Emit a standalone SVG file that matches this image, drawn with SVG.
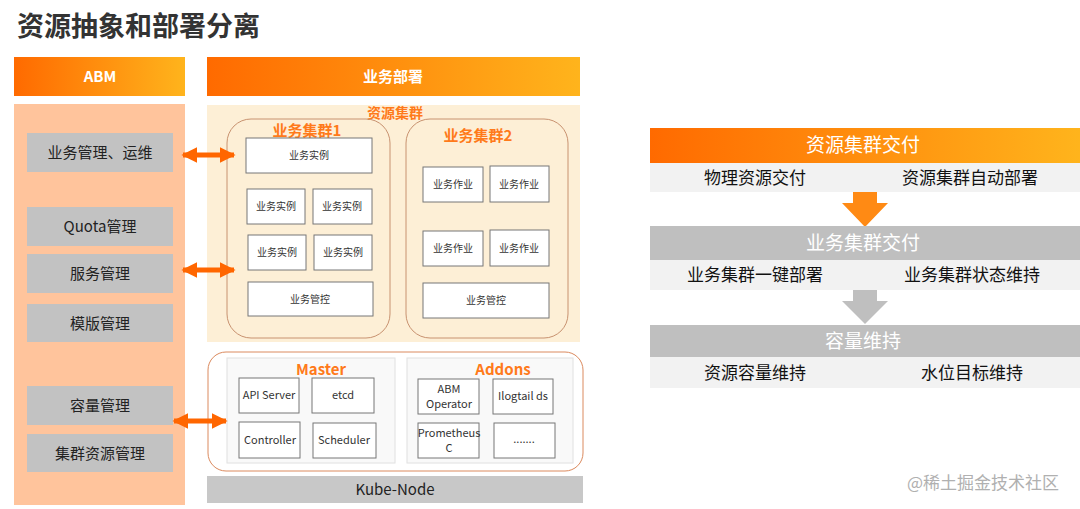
<svg xmlns="http://www.w3.org/2000/svg" width="1080" height="509" viewBox="0 0 1080 509">
<defs>
<linearGradient id="og" x1="0" y1="0" x2="1" y2="0">
<stop offset="0" stop-color="#FF6A00"/>
<stop offset="1" stop-color="#FFB41C"/>
</linearGradient>
<marker id="ah" viewBox="0 0 10 10" refX="9" refY="5" markerWidth="3.2" markerHeight="3.6" orient="auto-start-reverse" markerUnits="strokeWidth">
<path d="M0,0 L10,5 L0,10 Z" fill="#FF6600"/>
</marker>
</defs>
<style>
text{font-family:"Noto Sans CJK SC","Liberation Sans",sans-serif;}
.hdr{fill:#fff;font-size:15px;font-weight:bold;text-anchor:middle;}
.gray{fill:#C2C2C2;}
.ltxt{fill:#222;font-size:15px;text-anchor:middle;}
.ib{fill:#fff;stroke:#777;stroke-width:1;}
.it{fill:#333;font-size:10px;text-anchor:middle;}
.mt{fill:#333;font-size:11px;text-anchor:middle;}
.ol{fill:#FF7A1A;font-weight:bold;text-anchor:middle;}
.clu{fill:none;stroke:#C89270;stroke-width:1;}
.conn{stroke:#FF6600;stroke-width:5;fill:none;marker-start:url(#ah);marker-end:url(#ah);}
.rbar{fill:#F2F2F2;}
.rt{fill:#111;font-size:17px;text-anchor:middle;}
.rh{fill:#fff;font-size:19px;text-anchor:middle;}
</style>
<rect width="1080" height="509" fill="#fff"/>
<text x="17" y="36" font-size="27" font-weight="bold" fill="#333">资源抽象和部署分离</text>

<g id="abm-header"><rect x="14" y="57" width="171" height="39" fill="url(#og)"/><text class="hdr" x="100" y="82">ABM</text></g>
<g id="deploy-header"><rect x="207" y="57" width="373" height="39" fill="url(#og)"/><text class="hdr" x="393" y="82">业务部署</text></g>

<g id="abm-panel"><rect x="14" y="104" width="171" height="401" fill="#FFC49C"/></g>
<g id="n-ops"><rect class="gray" x="27" y="133" width="146" height="39"/><text class="ltxt" x="100" y="158">业务管理、运维</text></g>
<g id="n-quota"><rect class="gray" x="27" y="207" width="146" height="39"/><text class="ltxt" x="100" y="232">Quota管理</text></g>
<g id="n-svc"><rect class="gray" x="27" y="254" width="146" height="39"/><text class="ltxt" x="100" y="279">服务管理</text></g>
<g id="n-tpl"><rect class="gray" x="27" y="304" width="146" height="38"/><text class="ltxt" x="100" y="329">模版管理</text></g>
<g id="n-cap"><rect class="gray" x="27" y="386" width="146" height="39"/><text class="ltxt" x="100" y="411">容量管理</text></g>
<g id="n-clres"><rect class="gray" x="27" y="434" width="146" height="38"/><text class="ltxt" x="100" y="459">集群资源管理</text></g>

<g id="resource-cluster"><rect x="207" y="105" width="373" height="237" fill="#FDEFD6"/><text class="ol" x="395" y="118" font-size="14">资源集群</text></g>

<g id="biz-cluster-1">
<rect class="clu" x="227" y="119" width="163" height="219" rx="24"/>
<text class="ol" x="307" y="136" font-size="15">业务集群1</text>
<rect class="ib" x="246" y="138" width="126" height="35"/><text class="it" x="309" y="159">业务实例</text>
<rect class="ib" x="247" y="189" width="58" height="35"/><text class="it" x="276" y="210">业务实例</text>
<rect class="ib" x="313" y="189" width="59" height="35"/><text class="it" x="342" y="210">业务实例</text>
<rect class="ib" x="248" y="235" width="58" height="35"/><text class="it" x="277" y="256">业务实例</text>
<rect class="ib" x="314" y="235" width="58" height="35"/><text class="it" x="343" y="256">业务实例</text>
<rect class="ib" x="248" y="282" width="125" height="34"/><text class="it" x="310" y="303">业务管控</text>
</g>

<g id="biz-cluster-2">
<rect class="clu" x="406" y="119" width="162" height="219" rx="24"/>
<text class="ol" x="478" y="141" font-size="15">业务集群2</text>
<rect class="ib" x="423" y="167" width="60" height="35"/><text class="it" x="453" y="188">业务作业</text>
<rect class="ib" x="490" y="166" width="59" height="36"/><text class="it" x="519" y="188">业务作业</text>
<rect class="ib" x="423" y="231" width="60" height="35"/><text class="it" x="453" y="252">业务作业</text>
<rect class="ib" x="490" y="230" width="59" height="36"/><text class="it" x="519" y="252">业务作业</text>
<rect class="ib" x="423" y="283" width="126" height="35"/><text class="it" x="486" y="304">业务管控</text>
</g>

<g id="k8s">
<rect x="208" y="352" width="375" height="119" rx="18" fill="#fff" stroke="#DB8A5E" stroke-width="1"/>
</g>
<g id="master">
<rect x="227" y="358" width="168" height="105" fill="#F9F9F9" stroke="#E0E0E0"/>
<text class="ol" x="321" y="375" font-size="15">Master</text>
<rect class="ib" x="239" y="378" width="60" height="35"/><text class="mt" x="269" y="399">API Server</text>
<rect class="ib" x="312" y="378" width="62" height="35"/><text class="mt" x="343" y="399">etcd</text>
<rect class="ib" x="239" y="422" width="61" height="36"/><text class="mt" x="270" y="444">Controller</text>
<rect class="ib" x="313" y="423" width="63" height="35"/><text class="mt" x="344" y="444">Scheduler</text>
</g>
<g id="addons">
<rect x="407" y="358" width="166" height="105" fill="#F9F9F9" stroke="#E0E0E0"/>
<text class="ol" x="503" y="375" font-size="15">Addons</text>
<rect class="ib" x="418" y="379" width="61" height="35"/><text class="mt" x="449" y="393">ABM</text><text class="mt" x="449" y="408">Operator</text>
<rect class="ib" x="493" y="379" width="60" height="35"/><text class="mt" x="523" y="400">Ilogtail ds</text>
<rect class="ib" x="418" y="423" width="61" height="35"/><text class="mt" x="449" y="437">Prometheus</text><text class="mt" x="449" y="452">C</text>
<rect class="ib" x="494" y="423" width="61" height="35"/><text class="mt" x="524" y="443">.......</text>
</g>
<g id="kube-node"><rect x="207" y="476" width="376" height="27" fill="#C8C8C8"/><text x="395" y="495" font-size="15" fill="#222" text-anchor="middle">Kube-Node</text></g>

<g id="connectors">
<line class="conn" x1="183" y1="155" x2="234" y2="155"/>
<line class="conn" x1="183" y1="270" x2="234" y2="270"/>
<line class="conn" x1="174" y1="421" x2="226" y2="421"/>
</g>

<g id="step-1">
<rect x="650" y="128" width="430" height="35" fill="url(#og)"/>
<text class="rh" x="863" y="152">资源集群交付</text>
<rect class="rbar" x="650" y="163" width="430" height="29"/>
<text class="rt" x="755" y="184">物理资源交付</text><text class="rt" x="970" y="184">资源集群自动部署</text>
</g>
<g id="arrow-1"><path d="M853,192 H877 V203 H888 L865,227 L842,203 H853 Z" fill="#FF8A14"/></g>
<g id="step-2">
<rect x="650" y="226" width="430" height="34" fill="#BFBFBF"/>
<text class="rh" x="863" y="250">业务集群交付</text>
<rect class="rbar" x="650" y="260" width="430" height="30"/>
<text class="rt" x="755" y="281">业务集群一键部署</text><text class="rt" x="972" y="281">业务集群状态维持</text>
</g>
<g id="arrow-2"><path d="M853,290 H877 V301 H888 L865,324 L842,301 H853 Z" fill="#BFBFBF"/></g>
<g id="step-3">
<rect x="650" y="325" width="430" height="32" fill="#BFBFBF"/>
<text class="rh" x="863" y="348">容量维持</text>
<rect class="rbar" x="650" y="357" width="430" height="31"/>
<text class="rt" x="755" y="379">资源容量维持</text><text class="rt" x="972" y="379">水位目标维持</text>
</g>

<text x="983" y="489" font-size="17" fill="#B0B0B0" text-anchor="middle">@稀土掘金技术社区</text>
</svg>
